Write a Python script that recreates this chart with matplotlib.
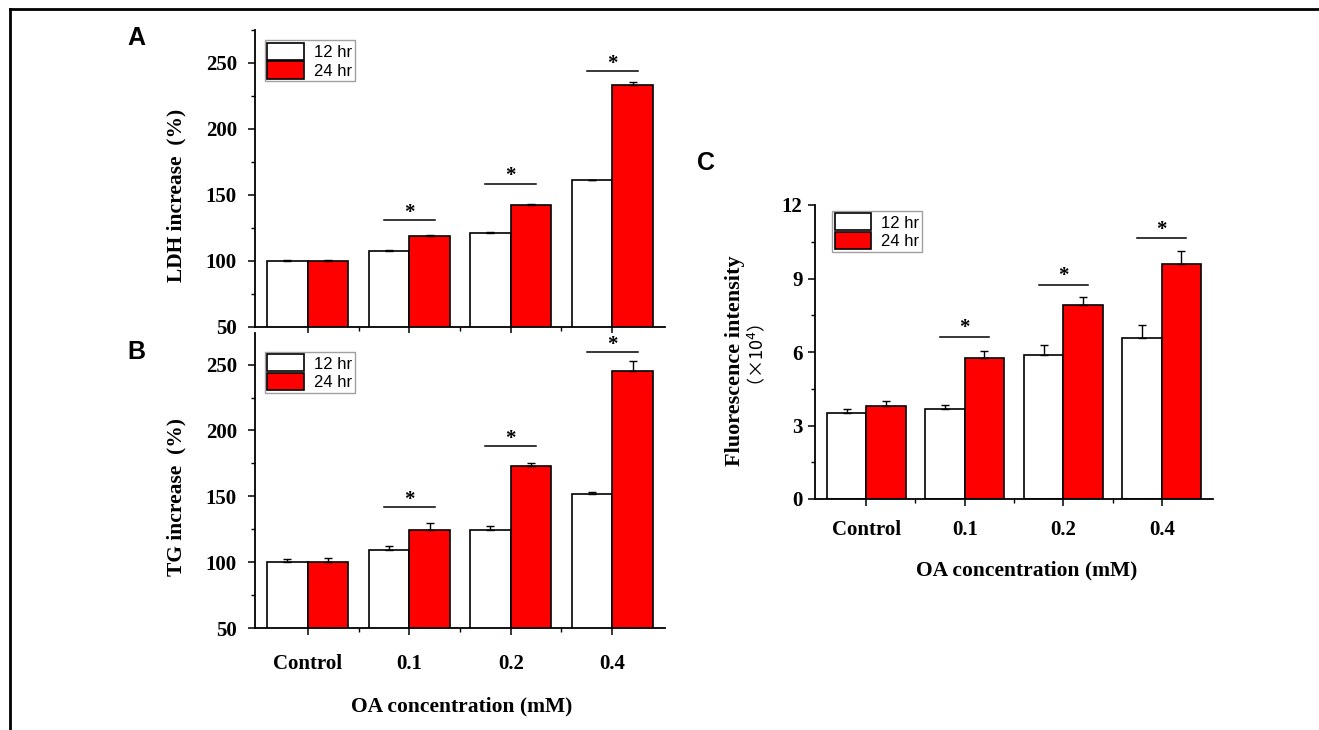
import numpy as np
import matplotlib
matplotlib.use("Agg")
import matplotlib.pyplot as plt
from matplotlib.lines import Line2D
from matplotlib.ticker import MultipleLocator, FixedLocator

# -----------------------------
# Data
# -----------------------------
groups = ["Control", "0.1", "0.2", "0.4"]
series = ["12 hr", "24 hr"]

ldh_12 = [100, 107.6, 121.2, 161.4]
ldh_24 = [100, 118.7, 142.7, 233.1]
ldh_12_err = [1.0, 0.5, 1.0, 0.0]
ldh_24_err = [1.0, 1.0, 0.5, 2.8]
ldh_sig = [None, 131, 158.6, 244]

tg_12 = [100, 109.6, 124.2, 151.5]
tg_24 = [100, 124.7, 173.2, 245.5]
tg_12_err = [2.5, 2.3, 3.3, 1.8]
tg_24_err = [3.0, 4.8, 2.3, 7.0]
tg_sig = [None, 141.9, 188.1, 259.3]

fl_12 = [3.49, 3.66, 5.86, 6.58]
fl_24 = [3.81, 5.74, 7.92, 9.58]
fl_12_err = [0.17, 0.18, 0.41, 0.52]
fl_24_err = [0.20, 0.30, 0.34, 0.56]
fl_sig = [None, 6.62, 8.75, 10.64]

W, H = 1319, 730
serif = "Liberation Serif"
sans = "Liberation Sans"


def px_axes(fig, x0, y0, x1, y1):
    # pixel box (top-left origin) -> figure axes
    return fig.add_axes([x0 / W, 1 - y1 / H, (x1 - x0) / W, (y1 - y0) / H])


def draw_panel(ax, v12, v24, e12, e24, sig, ylim, major, minor, star_off, leg_xy, ypad):
    x = np.arange(len(groups))
    bw = 0.4
    ax.bar(x - bw / 2, v12, bw, color="white", edgecolor="black", linewidth=1.2,
           yerr=[np.zeros(len(e12)), e12], capsize=3,
           error_kw=dict(elinewidth=1, capthick=1), label=series[0], zorder=2)
    ax.bar(x + bw / 2, v24, bw, color="#ff0000", edgecolor="black", linewidth=1.2,
           yerr=[np.zeros(len(e24)), e24], capsize=3,
           error_kw=dict(elinewidth=1, capthick=1), label=series[1], zorder=2)
    for i, s in enumerate(sig):
        if s is None:
            continue
        ax.plot([x[i] - 0.25, x[i] + 0.25], [s, s], color="black", lw=1.1)
        ax.text(x[i], s + star_off, "*", ha="center", va="bottom",
                fontsize=15, family=serif, weight="bold")
    ax.set_xlim(-0.52, 3.52)
    ax.set_ylim(*ylim)
    ax.yaxis.set_major_locator(MultipleLocator(major))
    ax.yaxis.set_minor_locator(MultipleLocator(minor))
    ax.set_xticks(x)
    ax.xaxis.set_minor_locator(FixedLocator([0.5, 1.5, 2.5]))
    for sp in ["top", "right"]:
        ax.spines[sp].set_visible(False)
    for sp in ["left", "bottom"]:
        ax.spines[sp].set_linewidth(1.3)
    ax.tick_params(axis="both", which="major", direction="out", length=5, width=1.1)
    ax.tick_params(axis="both", which="minor", direction="out", length=3, width=1.0)
    ax.tick_params(axis="y", which="major", pad=ypad)
    for lab in ax.get_yticklabels():
        lab.set_fontfamily(serif)
        lab.set_fontweight("bold")
        lab.set_fontsize(15)
    leg = ax.legend(loc="upper left", bbox_to_anchor=leg_xy,
                    prop=dict(family=sans, size=12),
                    frameon=True, fancybox=False, edgecolor="#888888",
                    handlelength=2.2, handleheight=1.2, borderpad=0.15,
                    labelspacing=0.1, handletextpad=0.6, borderaxespad=0)
    leg.get_frame().set_linewidth(1.0)
    return leg


fig = plt.figure(figsize=(W / 100, H / 100), dpi=100)

# border lines
fig.add_artist(Line2D([10 / W, 1], [1 - 8.5 / H, 1 - 8.5 / H], color="black", lw=2))
fig.add_artist(Line2D([10 / W, 10 / W], [0, 1 - 8.5 / H], color="black", lw=2))

# Panel A
axA = px_axes(fig, 255, 30, 665, 327)
draw_panel(axA, ldh_12, ldh_24, ldh_12_err, ldh_24_err, ldh_sig,
           (50, 275), 50, 25, -2, (0.024, 0.966), 8)
axA.set_xticklabels([])
fig.text(176 / W, 1 - 195 / H, "LDH increase  (%)", family=serif, weight="bold",
         fontsize=15.5, rotation=90, ha="center", va="center")

# Panel B
axB = px_axes(fig, 255, 333, 665, 628)
draw_panel(axB, tg_12, tg_24, tg_12_err, tg_24_err, tg_sig,
           (50, 274), 50, 25, -2, (0.024, 0.936), 8)
axB.set_xticklabels(groups, family=serif, weight="bold", fontsize=15)
axB.tick_params(axis="x", pad=14)
fig.text(176 / W, 1 - 497 / H, "TG increase  (%)", family=serif, weight="bold",
         fontsize=15.5, rotation=90, ha="center", va="center")
fig.text(462 / W, 1 - 706 / H, "OA concentration (mM)", family=serif, weight="bold",
         fontsize=15.5, ha="center", va="center")

# Panel C
axC = px_axes(fig, 815, 205, 1213, 499)
draw_panel(axC, fl_12, fl_24, fl_12_err, fl_24_err, fl_sig,
           (0, 12), 3, 1.5, -0.05, (0.043, 0.98), 4)
axC.set_xticklabels(groups, family=serif, weight="bold", fontsize=15)
axC.tick_params(axis="x", pad=10)
fig.text(735 / W, 1 - 361 / H, "Fluorescence intensity", family=serif, weight="bold",
         fontsize=16, rotation=90, ha="center", va="center")
fig.text(756 / W, 1 - 360 / H, "\uff08\u00d710$^4$\uff09", family=["Noto Sans CJK SC", sans],
         fontsize=13, rotation=90, ha="center", va="center")
fig.text(1027 / W, 1 - 570 / H, "OA concentration (mM)", family=serif, weight="bold",
         fontsize=15.5, ha="center", va="center")

# panel letters
fig.text(136 / W, 1 - 38 / H, "A", family=sans, weight="bold", fontsize=18, ha="center", va="center")
fig.text(136 / W, 1 - 352 / H, "B", family=sans, weight="bold", fontsize=18, ha="center", va="center")
fig.text(706 / W, 1 - 163 / H, "C", family=sans, weight="bold", fontsize=18, ha="center", va="center")

fig.savefig("out.png", dpi=100)
